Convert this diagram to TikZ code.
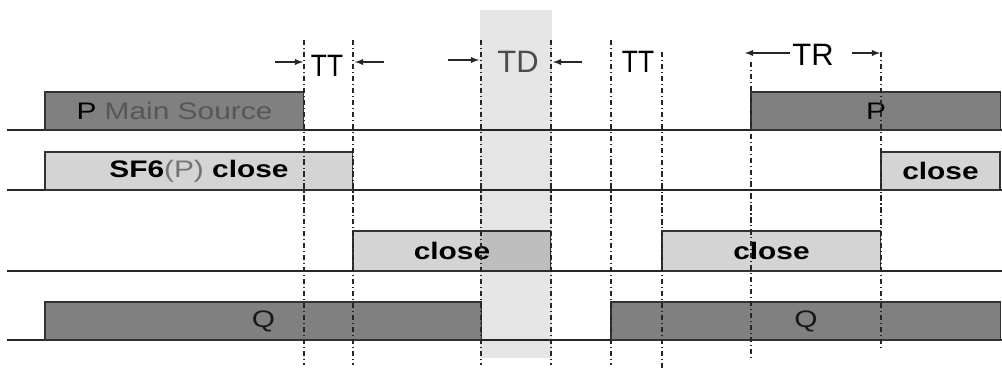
\documentclass[tikz,border=0pt]{standalone}
\usepackage{fontspec}
\setmainfont{Liberation Sans}
\newfontfamily\boxfont[FakeStretch=1.25]{Liberation Sans}
\usetikzlibrary{positioning}
\usetikzlibrary{arrows}

\tikzset{
	sig/.style={outer sep=0pt,inner sep=0pt,minimum height=.76cm,draw=black!80,anchor=south west,font=\boxfont\fontsize{13.6}{16}\selectfont},
	hi/.style={sig,fill=black!50},
	lo/.style={sig,fill=black!17},
	cutline/.style={black!85,semithick,dash pattern=on 3pt off 1.6pt on .6pt off 1.6pt},
	tlabel/.style={font=\fontsize{17.6}{20}\selectfont,inner sep=0pt}
}

\begin{document}
\begin{tikzpicture}[>=latex,semithick,x=0.02cm,y=-0.02cm]
	\useasboundingbox (0,0) rectangle (1002,372);

	% time axes
	\foreach \y in {130,190,271,340}
		\draw [black!85] (7,\y) -- (1002,\y);

	% signals
	\node [hi,minimum width=5.18cm] at (45,130) (p_main) {P {\color{black!66}Main Source}};
	\node [hi,minimum width=5cm] at (751,130) (p_back) {P};
	\node [lo,minimum width=6.16cm] at (45,190) (sf6_close) {\textbf{SF6}{\color{black!55}(P)} \textbf{close}};
	\node [lo,minimum width=2.38cm] at (881,190) (sf6_back) {\textbf{close}};
	\node [lo,minimum width=3.96cm,minimum height=.8cm] at (353,271) (tie_close) {\textbf{close}};
	\node [lo,minimum width=4.38cm,minimum height=.8cm] at (662,271) (tie_close2) {\textbf{close}};
	\node [hi,minimum width=8.74cm] at (45,340) (q_main) {\color{black!90}Q};
	\node [hi,minimum width=7.8cm] at (611,340) (q_back) {\color{black!90}Q};

	% dead time
	\fill [black,fill opacity=.1] (480,10) rectangle (552,358);

	% switching instants
	\foreach \x/\a/\b in {304/40/365,353/40/365,481/40/365,551/40/365,611/40/365,662/52/368,751/62/360,881/52/350}
		\draw [cutline] (\x,\a) coordinate (cut\x) -- (\x,\b);

	\node [tlabel] at (327,66) (tt1) {\scalebox{.85}[1]{TT}};
	\node [tlabel,text=black!70] at (518,62) (td) {TD};
	\node [tlabel] at (638,62) (tt2) {\scalebox{.85}[1]{TT}};
	\node [tlabel] at (813,55) (tr) {TR};

	\foreach \n/\xa/\xb/\y in {tt_in/275/303/62,tt_out/384/355/62,td_in/448/479/60,td_out/582/553/62,tr_in/790/745/53,tr_out/852/880/53} {
		\coordinate (\n_a) at (\xa,\y);
		\coordinate (\n_b) at (\xb,\y);
		\draw [->,black!85] (\n_a) -- (\n_b);
	}
\end{tikzpicture}
\end{document}
